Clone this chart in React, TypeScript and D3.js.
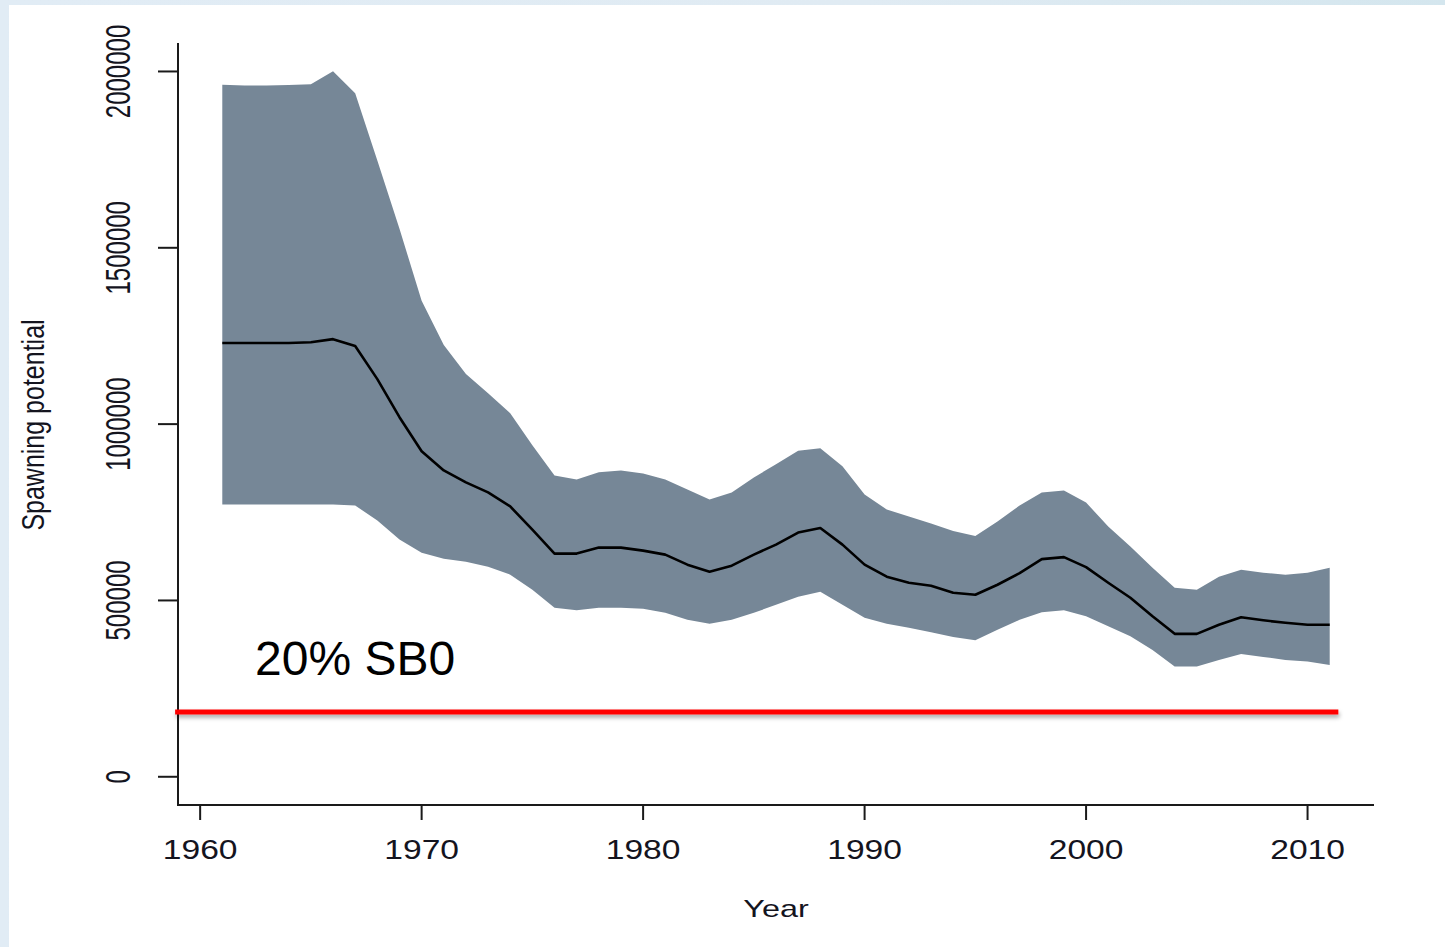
import React from "react";
import * as d3 from "d3";

const years: number[] = d3.range(1961, 2012);

const median: number[] = [
  1230000, 1230000, 1230000, 1230000, 1232000, 1241000, 1221500, 1127600, 1019600, 922900,
  868800, 834700, 806300, 766500, 701000, 632800, 632800, 649900, 649900, 641300,
  629900, 601500, 581600, 598700, 629900, 658400, 692500, 705300, 658400, 601500,
  567400, 550300, 541800, 521900, 516200, 544600, 577300, 617100, 622800, 594400,
  550300, 507700, 455000, 405300, 405300, 430900, 452200, 443700, 436600, 430900,
  430900,
];

const upper: number[] = [
  1962400, 1960100, 1960100, 1961800, 1963800, 2000700, 1938200, 1747600, 1554200, 1349500,
  1224300, 1141900, 1087800, 1031000, 939900, 854600, 843200, 863200, 868800, 860300,
  843200, 814800, 786400, 806300, 848900, 885900, 924300, 931400, 880200, 800600,
  757900, 738000, 718100, 696800, 682600, 723800, 769300, 806300, 812000, 777800,
  709600, 652700, 593000, 536100, 530400, 567400, 587300, 578800, 573100, 578800,
  593000,
];

const lower: number[] = [
  772100, 772100, 772100, 772100, 772100, 772100, 769300, 726600, 672600, 635600,
  618600, 610000, 595800, 573100, 530400, 479200, 472100, 479200, 479200, 476400,
  465000, 445100, 433700, 445100, 465000, 487700, 510500, 524700, 487700, 450800,
  433700, 422300, 409500, 396700, 386800, 416600, 445100, 466400, 472100, 455000,
  426600, 398200, 359800, 312800, 312800, 331300, 348400, 339900, 331300, 327100,
  317100,
];

const xTicks: number[] = [1960, 1970, 1980, 1990, 2000, 2010];
const yTicks: number[] = [0, 500000, 1000000, 1500000, 2000000];

const refValue = 184000; // 20% SB0
const refYears: number[] = [1958.87, 2011.39];
const refLabel = "20% SB0";

const W = 1445;
const H = 947;
const plot = { left: 178, right: 1374, top: 43, bottom: 805 };

export default function App() {
  const x = d3.scaleLinear().domain([1959, 2013]).range([plot.left, plot.right]);
  const y = d3.scaleLinear().domain([-80028, 2080728]).range([plot.bottom, plot.top]);

  const rows = years.map((yr, i) => ({ yr, m: median[i], u: upper[i], l: lower[i] }));

  const area = d3
    .area<{ yr: number; m: number; u: number; l: number }>()
    .x((d) => x(d.yr))
    .y0((d) => y(d.l))
    .y1((d) => y(d.u));
  const line = d3
    .line<{ yr: number; m: number; u: number; l: number }>()
    .x((d) => x(d.yr))
    .y((d) => y(d.m));

  const font = "'Liberation Sans', Arial, sans-serif";
  const txt = "#14141e";

  return (
    <svg
      width={W}
      height={H}
      style={{ position: "fixed", left: 0, top: 0, display: "block" }}
    >
      <defs>
        <linearGradient id="bg" x1="0" y1="0" x2="1" y2="0">
          <stop offset="0" stopColor="#e1ecf5" />
          <stop offset="0.6" stopColor="#e0ebf3" />
          <stop offset="1" stopColor="#d4e6ee" />
        </linearGradient>
        <filter id="shadow" filterUnits="userSpaceOnUse" x={150} y={680} width={1250} height={70}>
          <feDropShadow dx="1" dy="3" stdDeviation="2" floodColor="#000" floodOpacity="0.35" />
        </filter>
      </defs>
      <rect x={0} y={0} width={W} height={H} fill="url(#bg)" />
      <rect x={9} y={5} width={W - 9} height={H - 5} fill="#ffffff" />

      {/* band */}
      <path d={area(rows) || ""} fill="#768797" />
      {/* median */}
      <path d={line(rows) || ""} fill="none" stroke="#000" strokeWidth={2.6} strokeLinejoin="round" />

      {/* axes */}
      <line x1={plot.left} x2={plot.left} y1={plot.top} y2={plot.bottom + 1} stroke="#1a1a1a" strokeWidth={2} />
      <line x1={plot.left - 1} x2={plot.right} y1={plot.bottom} y2={plot.bottom} stroke="#1a1a1a" strokeWidth={2} />

      {yTicks.map((t) => (
        <g key={"y" + t}>
          <line x1={plot.left - 20} x2={plot.left} y1={y(t)} y2={y(t)} stroke="#1a1a1a" strokeWidth={2} />
          <text
            transform={`translate(130,${y(t)}) scale(1.5,1) rotate(-90)`}
            textAnchor="middle"
            fontFamily={font}
            fontSize={24}
            fill={txt}
          >
            {String(t)}
          </text>
        </g>
      ))}

      {xTicks.map((t) => (
        <g key={"x" + t}>
          <line x1={x(t)} x2={x(t)} y1={plot.bottom} y2={plot.bottom + 15} stroke="#1a1a1a" strokeWidth={2} />
          <text
            transform={`translate(${x(t)},859) scale(1.2,1)`}
            textAnchor="middle"
            fontFamily={font}
            fontSize={28}
            fill={txt}
          >
            {String(t)}
          </text>
        </g>
      ))}

      <text
        transform={`translate(${(plot.left + plot.right) / 2},917) scale(1.35,1)`}
        textAnchor="middle"
        fontFamily={font}
        fontSize={24}
        fill={txt}
      >
        Year
      </text>
      <text
        transform={`translate(44,425) scale(1.22,1) rotate(-90)`}
        textAnchor="middle"
        fontFamily={font}
        fontSize={25}
        fill={txt}
      >
        Spawning potential
      </text>

      {/* 20% SB0 reference */}
      <line
        x1={x(refYears[0])}
        x2={x(refYears[1])}
        y1={y(refValue)}
        y2={y(refValue)}
        stroke="#ff0000"
        strokeWidth={5}
        filter="url(#shadow)"
      />
      <text x={255} y={675} fontFamily={font} fontSize={48} fill="#000">
        {refLabel}
      </text>
    </svg>
  );
}
